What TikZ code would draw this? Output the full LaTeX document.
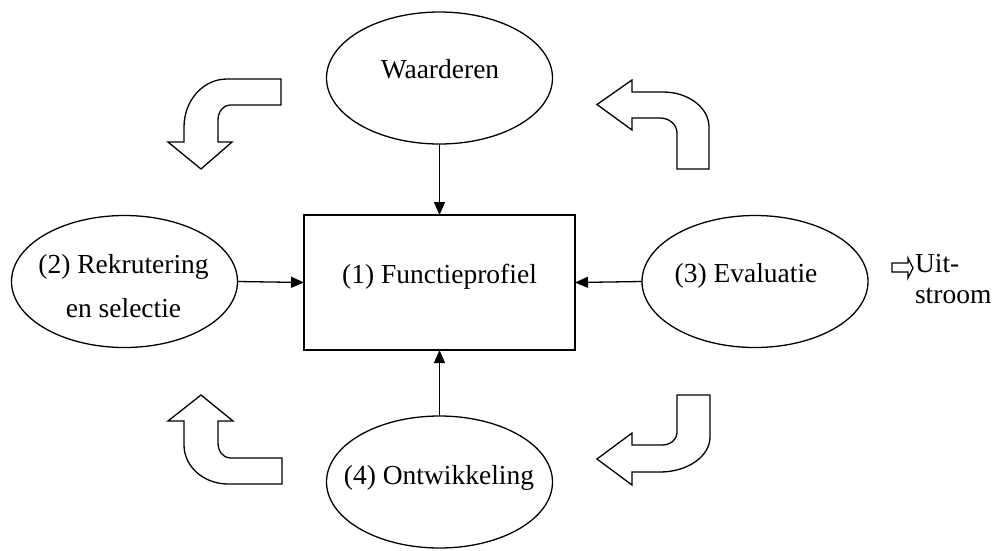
\documentclass[tikz,border=0pt]{standalone}
\usepackage{fontspec}
\setmainfont{Liberation Serif}
\usetikzlibrary{shapes.geometric,arrows.meta}
\begin{document}
\begin{tikzpicture}[x=1pt,y=-1pt,
  every node/.style={inner sep=0pt, outer sep=0pt},
  phase/.style={draw, line width=1.3pt, ellipse, minimum width=226pt, minimum height=132pt},
  hub/.style={draw, line width=1.3pt, minimum width=271pt, minimum height=135pt},
  lbl/.style={font=\fontsize{27.5}{33}\selectfont, anchor=base},
  sidelbl/.style={font=\fontsize{27.5}{33}\selectfont, anchor=base west},
  flow/.style={line width=1.3pt, -{Triangle[length=13pt,width=11pt]}},
  bent/.style={draw, line width=1.3pt, line join=miter, fill=white}
]
\useasboundingbox (0,0) rectangle (995,550);

% central profile box and the four phases around it
\node[hub] (prof) at (439.5,282.5) {};
\node[lbl] (profT) at (439.5,283) {(1) Functieprofiel};

\node[phase] (waard) at (439.5,78) {};
\node[lbl] (waardT) at (440,78) {Waarderen};

\node[phase] (rekr) at (124.5,281.5) {};
\node[lbl] (rekrA) at (123.5,273) {(2) Rekrutering};
\node[lbl] (rekrB) at (123.5,317) {en selectie};

\node[phase] (eval) at (755,281.5) {};
\node[lbl] (evalT) at (746,282) {(3) Evaluatie};

\node[phase] (ontw) at (439.5,482) {};
\node[lbl] (ontwT) at (439,484) {(4) Ontwikkeling};

% connectors into the profile box
\draw[flow] (waard.south) -- (prof.north);
\draw[flow] (rekr.east) -- (prof.west);
\draw[flow] (eval.west) -- (prof.east);
\draw[flow] (ontw.north) -- (prof.south);

% bent block arrows showing the cycle
\draw[bent] (281,79) -- (227,79) .. controls (203,79) and (184,100.5) .. (184,127)
  -- (184,142) -- (168,142) -- (201,169) -- (232,142) -- (218,142) -- (218,120)
  .. controls (218,111.7) and (223.4,105) .. (230,105) -- (281,105) -- cycle;

\draw[bent] (597,104.5) -- (632,80) -- (632,92) -- (663,92)
  .. controls (688.4,92) and (709,107.7) .. (709,127) -- (709,169) -- (677,169)
  -- (677,133) .. controls (677,124.7) and (669.4,118) .. (660,118)
  -- (632,118) -- (632,130) -- cycle;

\draw[bent] (201,395) -- (233,421) -- (218,421) -- (218,443)
  .. controls (218,451.3) and (223.4,458) .. (230,458) -- (282,458) -- (282,484)
  -- (228,484) .. controls (203.7,484) and (184,466.5) .. (184,445)
  -- (184,421) -- (168,421) -- cycle;

\draw[bent] (597,459) -- (632,433) -- (632,445) -- (662,445)
  .. controls (670.3,445) and (677,439.6) .. (677,433) -- (677,395) -- (710,395)
  -- (710,437) .. controls (710,456.3) and (687.6,472) .. (660,472)
  -- (632,472) -- (632,485) -- cycle;

% outflow
\draw[bent] (892,263) -- (908,263) -- (908,258) -- (913,268) -- (908,278)
  -- (908,272) -- (892,272) -- cycle;
\node[sidelbl] (outA) at (915,272) {Uit-};
\node[sidelbl] (outB) at (915,303) {stroom};
\end{tikzpicture}
\end{document}
